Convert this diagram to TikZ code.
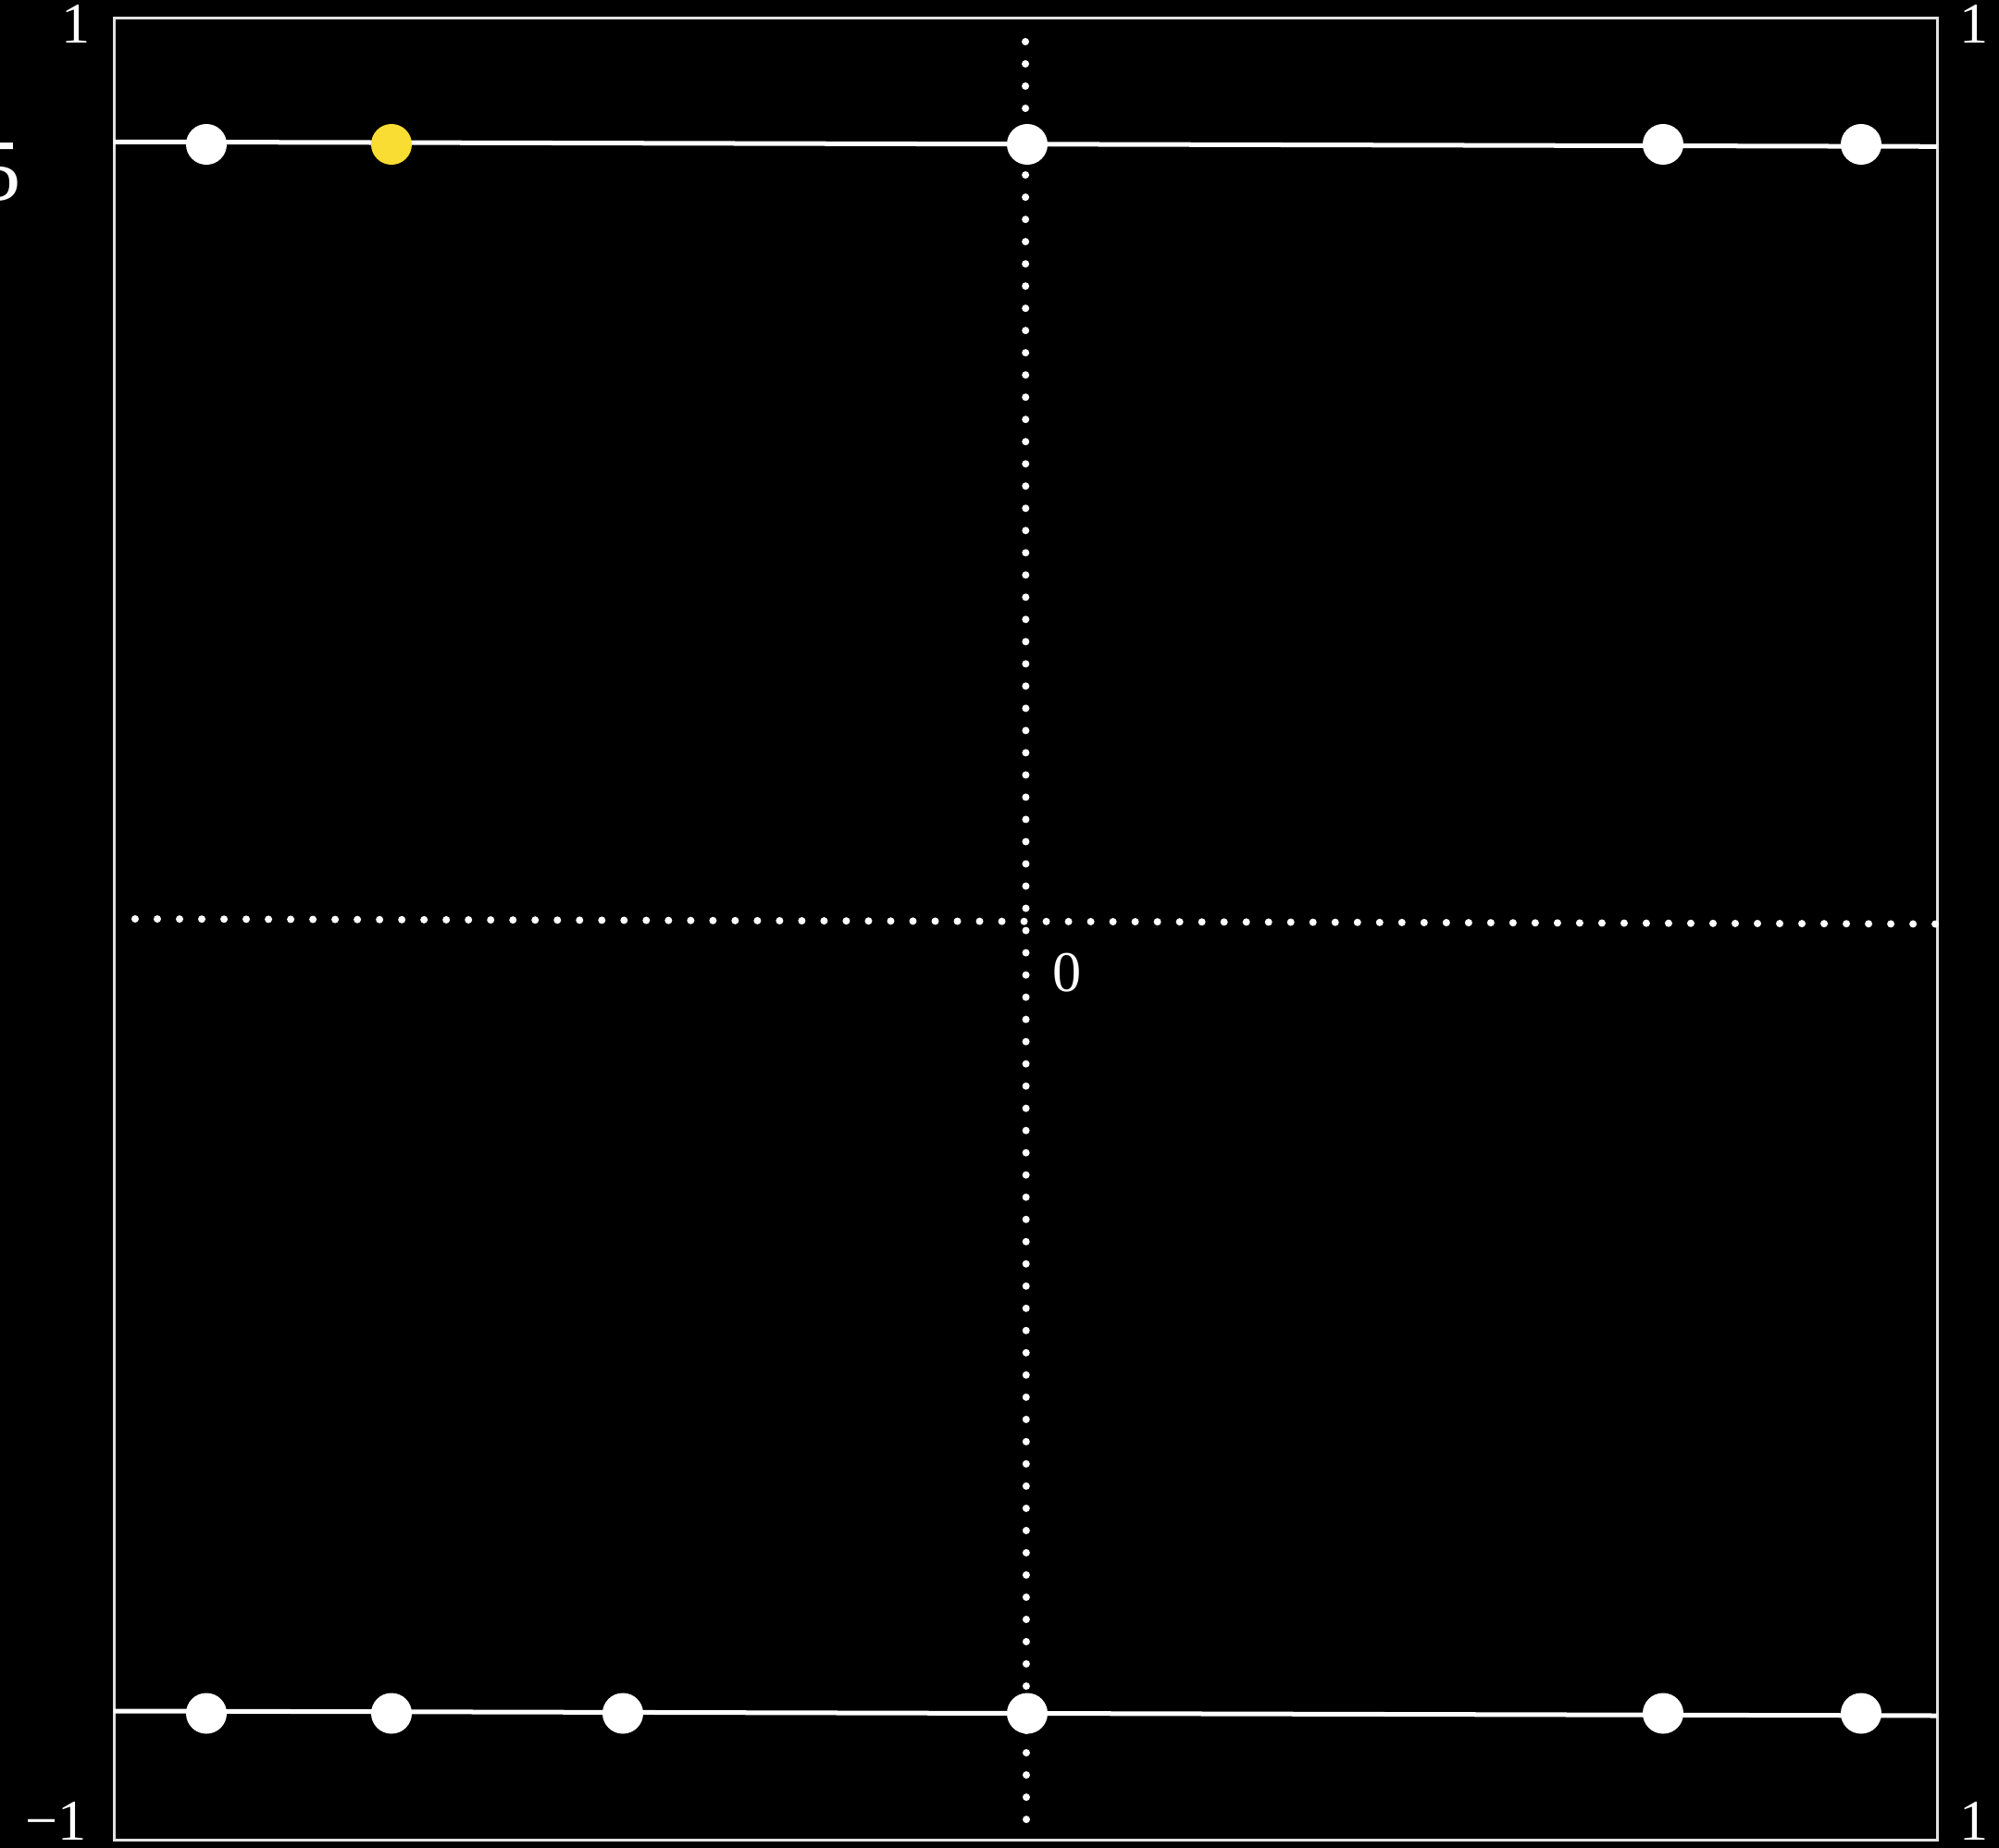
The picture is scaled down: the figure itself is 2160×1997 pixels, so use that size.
\documentclass[tikz,border=0pt]{standalone}
\usepackage{fontspec}
\setmainfont{Liberation Serif}
\definecolor{dotyellow}{RGB}{250,221,50}
\definecolor{framegray}{RGB}{225,225,225}
\begin{document}
\begin{tikzpicture}[x=0.01cm,y=-0.01cm,
  wdot/.style={circle,fill=white,draw=none,minimum size=4.4mm,inner sep=0pt},
  ydot/.style={circle,fill=dotyellow,draw=none,minimum size=4.4mm,inner sep=0pt},
  curve/.style={white,line width=0.5mm},
  dotline/.style={white,line width=0.8mm,line cap=round,dash pattern=on 0pt off 2.4mm},
  lab/.style={white,inner sep=0pt,font=\fontsize{17.7}{20}\selectfont}]
\fill[black] (0,0) rectangle (2160,1997);
\useasboundingbox (0,0) rectangle (2160,1997);
% frame
\draw[framegray,line width=0.3mm] (123,19.5) rectangle (2093,1988);
% dotted axes
\coordinate (hl) at (146,993);
\coordinate (hr) at (2092,998.5);
\coordinate (vt) at (1108,45);
\coordinate (vb) at (1109,1968);
\draw[dotline] (hl) -- (hr);
\draw[dotline] (vt) -- (vb);
% curves
\coordinate (tl) at (123,153.3);
\coordinate (tr) at (2093,158.3);
\coordinate (bl) at (123,1849);
\coordinate (br) at (2093,1854);
\draw[curve] (tl) -- (tr);
\draw[curve] (bl) -- (br);
% top row dots
\node[wdot] (t1) at (223,156) {};
\node[ydot] (t2) at (423,156) {};
\node[wdot] (t3) at (1110,156) {};
\node[wdot] (t4) at (1797,156) {};
\node[wdot] (t5) at (2011,156) {};
% bottom row dots
\node[wdot] (b1) at (223,1851.5) {};
\node[wdot] (b2) at (423,1851.5) {};
\node[wdot] (b3) at (673,1851.5) {};
\node[wdot] (b4) at (1110,1851.5) {};
\node[wdot] (b5) at (1797,1851.5) {};
\node[wdot] (b6) at (2011,1851.5) {};
% labels
\node[lab,anchor=base] (ltl) at (82.5,47) {1};
\node[lab,anchor=base] (ltr) at (2133,47) {1};
\node[lab,anchor=base east] (lbl) at (94,1988) {−1};
\node[lab,anchor=base] (lbr) at (2133,1988) {1};
\node[lab,anchor=base] (lzero) at (1152.7,1071) {0};
\node[white,inner sep=0pt,anchor=base east,font=\fontsize{26.9}{30}\selectfont] (lfive) at (24,217) {5};
\end{tikzpicture}
\end{document}
